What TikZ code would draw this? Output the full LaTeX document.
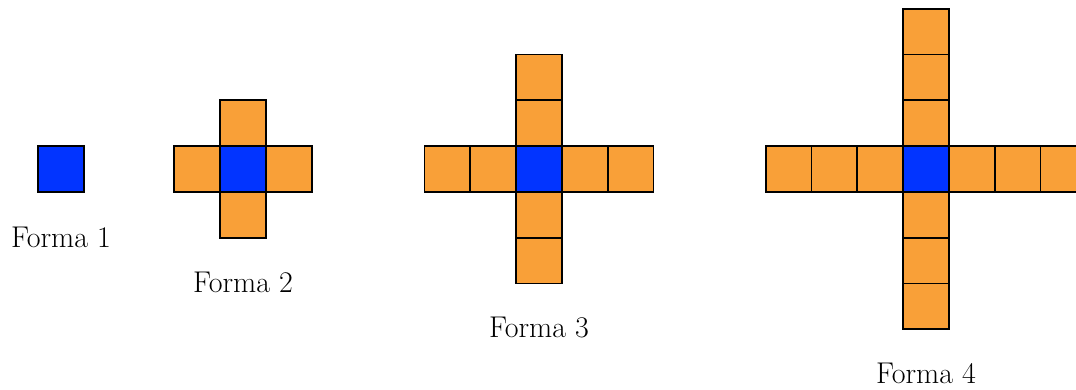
\documentclass[tikz,border=0pt]{standalone}
\usetikzlibrary{positioning}
\definecolor{cblue}{RGB}{2,52,255}
\definecolor{corange}{RGB}{249,160,56}
\tikzset{
  sq/.style={draw=black, line width=1.8pt, minimum size=45.8pt, inner sep=0pt, outer sep=0pt, shape=rectangle},
  center/.style={sq, fill=cblue},
  arm/.style={sq, fill=corange},
  lbl/.style={anchor=base, inner sep=0pt, font=\fontsize{30}{36}\selectfont}
}
\begin{document}
\begin{tikzpicture}[x=1pt,y=-1pt]
\useasboundingbox (0,0) rectangle (1076,389);
\clip (0,0) rectangle (1076,389);
\def\s{45.8}
% Forma 1
\node[center] (c1) at (61,169) {};
\node[lbl] (l1) at (61,247) {Forma 1};
% Forma 2..4
\foreach \k/\cx/\by in {1/243/292, 2/539/337, 3/926/383}{
  \foreach \i in {1,...,\k}{
    \node[arm] (a\k r\i) at ({\cx+\i*\s},169) {};
    \node[arm] (a\k l\i) at ({\cx-\i*\s},169) {};
    \node[arm] (a\k u\i) at (\cx,{169-\i*\s}) {};
    \node[arm] (a\k d\i) at (\cx,{169+\i*\s}) {};
  }
  \node[center] (c\k) at (\cx,169) {};
}
\node[lbl] (l2) at (243,292) {Forma 2};
\node[lbl] (l3) at (539,337) {Forma 3};
\node[lbl] (l4) at (926,383) {Forma 4};
\end{tikzpicture}
\end{document}
